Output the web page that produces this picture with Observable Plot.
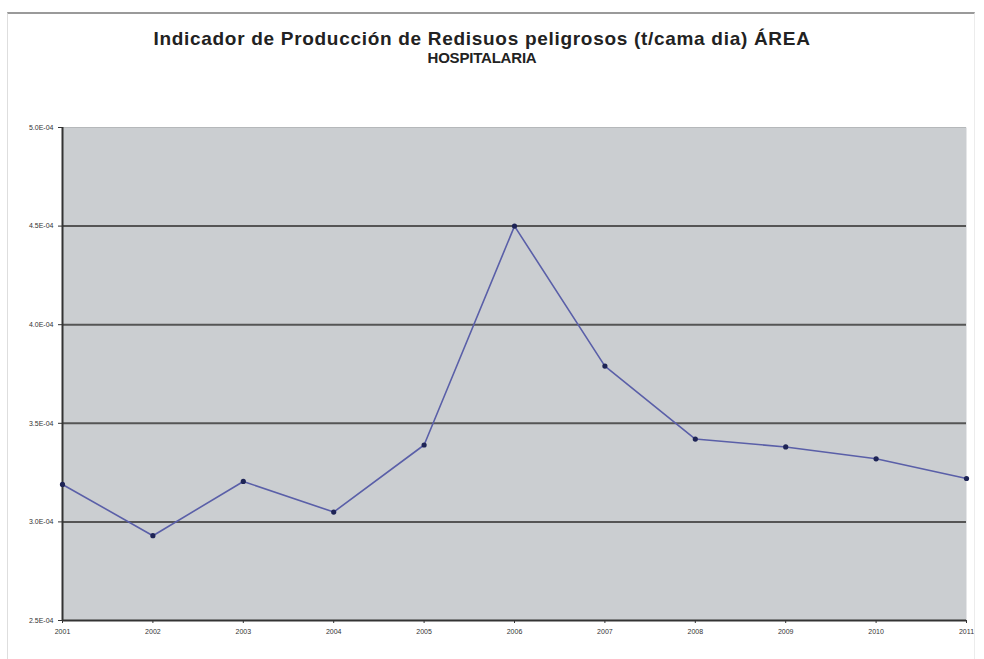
<!DOCTYPE html>
<html>
<head>
<meta charset="utf-8">
<script src="https://cdn.jsdelivr.net/npm/d3@7"></script>
<script src="https://cdn.jsdelivr.net/npm/@observablehq/plot@0.6"></script>
<style>
  html, body { margin: 0; padding: 0; background: #fff; }
  #wrap { position: relative; width: 984px; height: 659px; overflow: hidden; }
  #frame { position: absolute; left: 7px; top: 12px; right: 9px; bottom: 0; border-top: 2px solid #9a9a9a; border-left: 1px solid #dedede; border-right: 1px solid #ececec; pointer-events: none; }
  #title { height: 100px; box-sizing: border-box; padding-top: 29px; text-align: center; font-family: "Liberation Sans", Arial, sans-serif; font-weight: bold; color: #222; padding-right: 20px; }
  #title .l1 { font-size: 19px; line-height: 20px; letter-spacing: 0.7px; display: block; }
  #title .l2 { font-size: 15px; line-height: 17px; letter-spacing: -0.2px; display: block; }
  svg { display: block; }
</style>
</head>
<body>
<div id="wrap">
  <div id="frame"></div>
  <div id="title"><span class="l1">Indicador de Producción de Redisuos peligrosos (t/cama dia) ÁREA</span><span class="l2">HOSPITALARIA</span></div>
  <div id="chart"></div>
</div>
<script>
const years = [2001, 2002, 2003, 2004, 2005, 2006, 2007, 2008, 2009, 2010, 2011];
const values = [3.19e-4, 2.93e-4, 3.205e-4, 3.05e-4, 3.39e-4, 4.50e-4, 3.79e-4, 3.42e-4, 3.38e-4, 3.32e-4, 3.22e-4];
const yTicks = [2.5e-4, 3.0e-4, 3.5e-4, 4.0e-4, 4.5e-4, 5.0e-4];
const darkGrid = [3.0e-4, 3.5e-4, 4.0e-4, 4.5e-4];

const data = years.map((y, i) => ({year: y, value: values[i]}));
const fmt = d => d.toExponential(1).replace("e-4", "E-04");

const chart = Plot.plot({
  width: 984,
  height: 559,
  marginTop: 27,
  marginBottom: 39,
  marginLeft: 62,
  marginRight: 18,
  style: {fontFamily: "Liberation Sans, Arial, sans-serif", fontSize: "7px", color: "#333", background: "transparent"},
  x: {domain: [2001, 2011], ticks: years, tickFormat: d => String(d), label: null, tickSize: 3, tickPadding: 4},
  y: {domain: [2.5e-4, 5.0e-4], ticks: yTicks, tickFormat: fmt, label: null, tickSize: 4, tickPadding: 2},
  marks: [
    Plot.frame({fill: "#cbced1", stroke: null}),
    Plot.ruleY([5.0e-4], {stroke: "#b5b8ba", strokeWidth: 1}),
    Plot.ruleY(darkGrid, {stroke: "#555", strokeWidth: 2}),
    Plot.ruleY([2.5e-4], {stroke: "#333", strokeWidth: 2}),
    Plot.ruleX([2001], {stroke: "#333", strokeWidth: 2}),
    Plot.axisY({ticks: yTicks, tickFormat: fmt, tickSize: 4, fontSize: 7}),
    Plot.axisX({ticks: years, tickFormat: d => String(d), tickSize: 3, fontSize: 7}),
    Plot.line(data, {x: "year", y: "value", stroke: "#5a5fa8", strokeWidth: 1.6}),
    Plot.dot(data, {x: "year", y: "value", fill: "#1e2456", r: 2.6})
  ]
});
document.getElementById("chart").appendChild(chart);
</script>
</body>
</html>
